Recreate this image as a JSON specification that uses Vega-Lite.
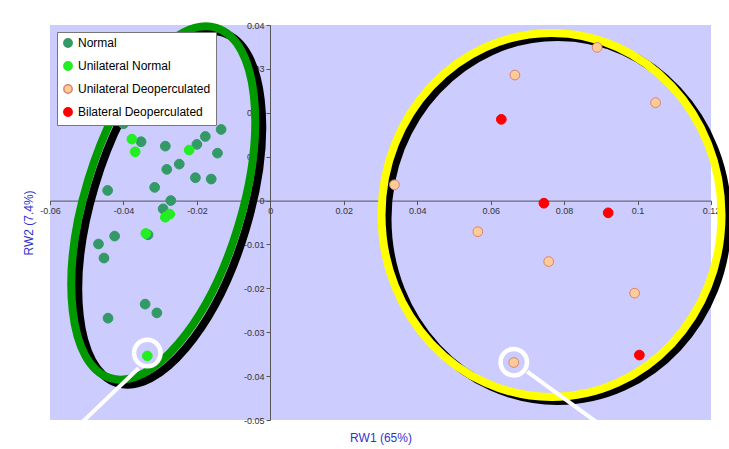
{
  "$schema": "https://vega.github.io/schema/vega-lite/v6.json",
  "width": 661,
  "height": 395,
  "autosize": {"type": "none"},
  "padding": {"left": 50, "top": 25, "right": 18, "bottom": 29},
  "background": "#ffffff",
  "view": {"fill": "#ccccff", "stroke": null},
  "config": {
    "font": "Liberation Sans",
    "axis": {
      "grid": false,
      "domainColor": "#555555",
      "tickColor": "#555555",
      "labelColor": "#333333",
      "labelFontSize": 9,
      "labelFont": "Liberation Sans",
      "tickSize": 4,
      "labelFlush": false,
      "labelOverlap": false,
      "titleFont": "Liberation Sans",
      "titleColor": "#3333cc",
      "titleFontSize": 12,
      "titleFontWeight": "normal",
      "zindex": 0
    }
  },
  "layer": [
    {
      "data": {"values": [{"x": -0.02916, "y": -0.00055}]},
      "mark": {"type": "point", "shape": "M0.5289,-1.7519 C0.944,-1.6266 1.0436,-0.7406 0.7515,0.2269 C0.4594,1.1944 -0.1138,1.8772 -0.5289,1.7519 C-0.944,1.6266 -1.0436,0.7406 -0.7515,-0.2269 C-0.4594,-1.1944 0.1138,-1.8772 0.5289,-1.7519 Z", "filled": false, "stroke": "#000000", "strokeWidth": 8, "size": 40000, "xOffset": 7, "yOffset": 5, "opacity": 1},
      "encoding": {
        "x": {"field": "x", "type": "quantitative", "scale": {"domain": [-0.06, 0.12], "nice": false, "zero": false},
          "axis": {"values": [-0.06, -0.04, -0.02, 0, 0.02, 0.04, 0.06, 0.08, 0.1, 0.12], "format": ".2~f", "labelExpr": "replace(datum.label, '\u2212', '-')", "offset": -219.4, "title": "RW1 (65%)", "titleX": 330.5, "titleY": 237, "titleBaseline": "middle", "titleAlign": "center"}},
        "y": {"field": "y", "type": "quantitative", "scale": {"domain": [-0.05, 0.04], "nice": false, "zero": false},
          "axis": {"values": [-0.05, -0.04, -0.03, -0.02, -0.01, 0, 0.01, 0.02, 0.03, 0.04], "format": ".2~f", "labelExpr": "replace(datum.label, '\u2212', '-')", "offset": -220, "title": "RW2 (7.4%)", "titleX": -242, "titleY": 197.5, "titleAngle": -90, "titleBaseline": "middle", "titleAlign": "center"}}
      }
    },
    {
      "data": {"values": [{"x": -0.02916, "y": -0.00055}]},
      "mark": {"type": "point", "shape": "M0.5289,-1.7519 C0.944,-1.6266 1.0436,-0.7406 0.7515,0.2269 C0.4594,1.1944 -0.1138,1.8772 -0.5289,1.7519 C-0.944,1.6266 -1.0436,0.7406 -0.7515,-0.2269 C-0.4594,-1.1944 0.1138,-1.8772 0.5289,-1.7519 Z", "filled": false, "stroke": "#009a00", "strokeWidth": 8, "size": 40000, "opacity": 1},
      "encoding": {
        "x": {"field": "x", "type": "quantitative"},
        "y": {"field": "y", "type": "quantitative"}
      }
    },
    {
      "data": {"values": [{"x": 0.07657, "y": -0.00328}]},
      "mark": {"type": "point", "shape": "M0,-1.82 C0.9389,-1.82 1.7,-1.0052 1.7,0 C1.7,1.0052 0.9389,1.82 0,1.82 C-0.9389,1.82 -1.7,1.0052 -1.7,0 C-1.7,-1.0052 -0.9389,-1.82 0,-1.82 Z", "filled": false, "stroke": "#000000", "strokeWidth": 8, "size": 40000, "xOffset": 6, "yOffset": 4, "opacity": 1},
      "encoding": {
        "x": {"field": "x", "type": "quantitative"},
        "y": {"field": "y", "type": "quantitative"}
      }
    },
    {
      "data": {"values": [{"x": 0.07657, "y": -0.00328}]},
      "mark": {"type": "point", "shape": "M0,-1.82 C0.9389,-1.82 1.7,-1.0052 1.7,0 C1.7,1.0052 0.9389,1.82 0,1.82 C-0.9389,1.82 -1.7,1.0052 -1.7,0 C-1.7,-1.0052 -0.9389,-1.82 0,-1.82 Z", "filled": false, "stroke": "#ffff00", "strokeWidth": 8, "size": 40000, "opacity": 1},
      "encoding": {
        "x": {"field": "x", "type": "quantitative"},
        "y": {"field": "y", "type": "quantitative"}
      }
    },
    {
      "data": {"values": [
        {"id": "a", "x": -0.03589, "y": -0.0382},
        {"id": "a", "x": -0.05286, "y": -0.0518},
        {"id": "b", "x": 0.06995, "y": -0.03898},
        {"id": "b", "x": 0.09101, "y": -0.0518}
      ]},
      "mark": {"type": "line", "stroke": "#ffffff", "strokeWidth": 4},
      "encoding": {
        "x": {"field": "x", "type": "quantitative"},
        "y": {"field": "y", "type": "quantitative"},
        "detail": {"field": "id"}
      }
    },
    {
      "data": {"values": [
        {"x": -0.03351, "y": -0.03472},
        {"x": 0.06629, "y": -0.03683}
      ]},
      "mark": {"type": "point", "shape": "circle", "filled": false, "stroke": "#ffffff", "strokeWidth": 4.5, "size": 700, "opacity": 1},
      "encoding": {
        "x": {"field": "x", "type": "quantitative"},
        "y": {"field": "y", "type": "quantitative"}
      }
    },
    {
      "data": {"values": [
        {"group": "Normal", "x": -0.0400, "y": 0.0175},
        {"group": "Normal", "x": -0.0352, "y": 0.0134},
        {"group": "Normal", "x": -0.0286, "y": 0.0124},
        {"group": "Normal", "x": -0.0134, "y": 0.0162},
        {"group": "Normal", "x": -0.0177, "y": 0.0146},
        {"group": "Normal", "x": -0.0200, "y": 0.0128},
        {"group": "Normal", "x": -0.0144, "y": 0.0108},
        {"group": "Normal", "x": -0.0248, "y": 0.0083},
        {"group": "Normal", "x": -0.0282, "y": 0.0071},
        {"group": "Normal", "x": -0.0204, "y": 0.0052},
        {"group": "Normal", "x": -0.0161, "y": 0.0049},
        {"group": "Normal", "x": -0.0315, "y": 0.0030},
        {"group": "Normal", "x": -0.0443, "y": 0.0023},
        {"group": "Normal", "x": -0.0271, "y": 0.0000},
        {"group": "Normal", "x": -0.0292, "y": -0.0019},
        {"group": "Normal", "x": -0.0424, "y": -0.0081},
        {"group": "Normal", "x": -0.0333, "y": -0.0078},
        {"group": "Normal", "x": -0.0468, "y": -0.0099},
        {"group": "Normal", "x": -0.0453, "y": -0.0131},
        {"group": "Normal", "x": -0.0341, "y": -0.0236},
        {"group": "Normal", "x": -0.0309, "y": -0.0256},
        {"group": "Normal", "x": -0.0442, "y": -0.0268},
        {"group": "Unilateral Normal", "x": -0.0377, "y": 0.0140},
        {"group": "Unilateral Normal", "x": -0.0368, "y": 0.0111},
        {"group": "Unilateral Normal", "x": -0.0221, "y": 0.0115},
        {"group": "Unilateral Normal", "x": -0.0274, "y": -0.0031},
        {"group": "Unilateral Normal", "x": -0.0286, "y": -0.0038},
        {"group": "Unilateral Normal", "x": -0.0339, "y": -0.0075},
        {"group": "Unilateral Normal", "x": -0.0335, "y": -0.0354},
        {"group": "Unilateral Deoperculated", "x": 0.0890, "y": 0.0349},
        {"group": "Unilateral Deoperculated", "x": 0.0666, "y": 0.0286},
        {"group": "Unilateral Deoperculated", "x": 0.1049, "y": 0.0223},
        {"group": "Unilateral Deoperculated", "x": 0.0338, "y": 0.0036},
        {"group": "Unilateral Deoperculated", "x": 0.0565, "y": -0.0071},
        {"group": "Unilateral Deoperculated", "x": 0.0758, "y": -0.0139},
        {"group": "Unilateral Deoperculated", "x": 0.0992, "y": -0.0211},
        {"group": "Unilateral Deoperculated", "x": 0.0663, "y": -0.0369},
        {"group": "Bilateral Deoperculated", "x": 0.0629, "y": 0.0185},
        {"group": "Bilateral Deoperculated", "x": 0.0745, "y": -0.0006},
        {"group": "Bilateral Deoperculated", "x": 0.0920, "y": -0.0028},
        {"group": "Bilateral Deoperculated", "x": 0.1005, "y": -0.0352}
      ]},
      "mark": {"type": "circle", "size": 95, "strokeWidth": 1, "opacity": 1},
      "encoding": {
        "x": {"field": "x", "type": "quantitative"},
        "y": {"field": "y", "type": "quantitative"},
        "fill": {"field": "group", "type": "nominal",
          "scale": {"domain": ["Normal", "Unilateral Normal", "Unilateral Deoperculated", "Bilateral Deoperculated"], "range": ["#339966", "#22ee22", "#ffcc99", "#ff0000"]},
          "legend": {"title": null, "orient": "none", "legendX": 7, "legendY": 7, "fillColor": "#ffffff", "strokeColor": "#777777", "padding": 5, "labelFontSize": 12, "labelColor": "#000000", "labelFont": "Liberation Sans", "labelLimit": 300, "symbolSize": 70, "symbolType": "circle", "rowPadding": 7, "zindex": 0}},
        "stroke": {"field": "group", "type": "nominal",
          "scale": {"domain": ["Normal", "Unilateral Normal", "Unilateral Deoperculated", "Bilateral Deoperculated"], "range": ["#339966", "#22ee22", "#d9826b", "#ff0000"]},
          "legend": {"title": null, "orient": "none", "legendX": 7, "legendY": 7, "fillColor": "#ffffff", "strokeColor": "#777777", "padding": 5, "labelFontSize": 12, "labelColor": "#000000", "labelFont": "Liberation Sans", "labelLimit": 300, "symbolSize": 70, "symbolType": "circle", "rowPadding": 7, "zindex": 0}}
      }
    }
  ]
}
